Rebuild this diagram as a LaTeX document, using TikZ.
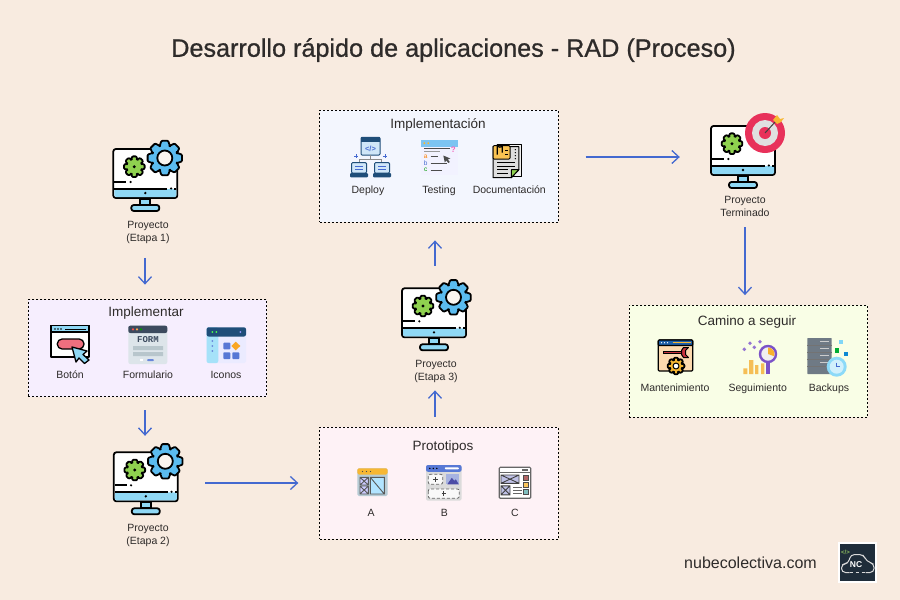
\documentclass[tikz,border=0pt]{standalone}
\usepackage{fontspec}
\setmainfont{Liberation Sans}
\setmonofont{Liberation Mono}
\newfontfamily\titleFont[FakeBold=0.8]{Liberation Sans}
\usetikzlibrary{positioning, arrows.meta}

\definecolor{pageBg}{HTML}{F8EBE0}
\definecolor{inkText}{HTML}{2E2B2A}
\definecolor{flowBlue}{HTML}{4469D0}
\definecolor{panelPurple}{HTML}{F6EEFE}
\definecolor{panelBlue}{HTML}{F3F6FE}
\definecolor{panelPink}{HTML}{FEF2F6}
\definecolor{panelLime}{HTML}{F9FEE6}
\definecolor{skyFill}{HTML}{8FD8F5}
\definecolor{gearBlue}{HTML}{5BBCF0}
\definecolor{gearGreen}{HTML}{8FD14F}
\definecolor{targetRed}{HTML}{E8315A}
\definecolor{dartGold}{HTML}{F7B733}
\definecolor{logoDark}{HTML}{1F2D3A}
\definecolor{pillRed}{HTML}{EE6F7F}
\definecolor{formGrey}{HTML}{DDE5EA}
\definecolor{formDark}{HTML}{3C4A5E}
\definecolor{formBar}{HTML}{B8C6CC}
\definecolor{navyLine}{HTML}{1F4E79}
\definecolor{paleBlue}{HTML}{CFE6F8}
\definecolor{testHead}{HTML}{7CC4F2}
\definecolor{peachFill}{HTML}{FCD9AE}
\definecolor{headBlue}{HTML}{1F5FA8}
\definecolor{wrenchRed}{HTML}{C8323C}
\definecolor{lensPurple}{HTML}{7B52C8}
\definecolor{barGold}{HTML}{F5BE55}
\definecolor{rackGrey}{HTML}{6F7A85}

\tikzset{
    flow/.style={-{Straight Barb[length=7pt,width=13pt]}, draw=flowBlue, line width=1.3pt},
    panel/.style={draw=black, fill=#1, dash pattern=on 2pt off 2pt, line width=.8pt},
    panelTitle/.style={text=inkText, font=\fontsize{13.5}{16}\selectfont, inner sep=0pt, text height=10pt, text depth=3pt},
    stackLabel/.style={text=inkText, font=\fontsize{10.5}{13}\selectfont, align=center, inner sep=0pt},
    rowLabel/.style={text=inkText, font=\fontsize{10.5}{13}\selectfont, inner sep=0pt, text height=8pt, text depth=2.5pt},
    monitorSpot/.style={minimum width=68pt, minimum height=68pt, inner sep=0pt},
    ink/.style={draw=black, line width=1.8pt, line join=round},
    thinInk/.style={draw=black, line width=1pt, line join=round},
    pics/gearIcon/.style 2 args={code={
        \draw[ink, fill=#2, rounded corners=.8pt] (-24:#1*.74)
            \foreach \a in {0,45,...,315} { -- (\a-24:#1*.74) -- (\a-11:#1) -- (\a+11:#1) -- (\a+24:#1*.74) } -- cycle;
    }},
    pics/monitorIcon/.style={code={
        \draw[ink, fill=white, rounded corners=2.5pt] (-32,-31) rectangle (32,18);
        \fill[skyFill, rounded corners=1.5pt] (-31,9) rectangle (31,17);
        \draw[ink] (-31,9) -- (22,9) (29,9) -- (31,9);
        \draw[ink] (-31,2) -- (-19,2);
        \fill (-14.7,2) circle (1.2) (0,13) circle (1.3) (25.8,8.5) circle (1.2);
        \draw[ink, fill=skyFill] (-5,19) rectangle (5,25);
        \draw[ink, fill=skyFill, rounded corners=2.5pt] (-14,25) rectangle (14,31);
        \pic at (-11,-13.3) {gearIcon={10.5}{gearGreen}};
        \fill (-11,-13.3) circle (1.6);
    }},
    pics/monitorGear/.style={code={
        \pic {monitorIcon};
        \pic at (19.5,-22) {gearIcon={17.5}{gearBlue}};
        \draw[ink, fill=white!50!pageBg] (19.5,-22) circle (7.5);
    }},
    pics/monitorTarget/.style={code={
        \pic {monitorIcon};
        \fill[targetRed] (22,-24) circle (20);
        \fill[black!12] (22,-24) circle (13);
        \fill[targetRed] (22,-24) circle (6);
        \draw[draw=black!75, line width=1pt] (22,-24) -- (33,-36);
        \fill[dartGold] (30,-37) -- (34,-42) -- (37,-38) -- (41,-39) -- (38,-35) -- (34,-33) -- cycle;
    }},
    pics/botonIcon/.style={code={
        \draw[thinInk, line width=1.3pt, fill=white] (-19,-17.3) rectangle (19,14);
        \draw[thinInk, line width=1.3pt, fill=skyFill] (-19,-17.3) rectangle (19,-11);
        \draw[line width=1pt] (-5,-14) -- (16,-14);
        \fill (-15,-14) circle (.8) (-12,-14) circle (.8) (-9,-14) circle (.8);
        \draw[thinInk, line width=1.3pt, fill=pillRed, rounded corners=4.8pt] (-12.7,-4) rectangle (14,6);
        \draw[thinInk, line width=1.3pt, fill=skyFill] (2,4) -- (17,8) -- (13,11.5) -- (19,17) -- (14.5,20.5) -- (9,15) -- (6,19) -- cycle;
    }},
    pics/formIcon/.style={code={
        \fill[formGrey, rounded corners=2pt] (-19.7,-19.3) rectangle (19.3,19);
        \fill[formDark, rounded corners=2pt] (-19.7,-19.3) rectangle (19.3,-12);
        \fill[red!70] (-15,-15.7) circle (1.2);
        \fill[orange!70] (-11,-15.7) circle (1.2);
        \fill[green!60!black] (-7,-15.7) circle (1.2);
        \node[text=formDark, font=\ttfamily\bfseries\fontsize{9}{9}\selectfont, inner sep=0pt] (formWord) at (0,-5) {FORM};
        \fill[formBar] (-15,1) rectangle (15,5) (-15,7) rectangle (15,11);
        \fill[white] (-8,14) rectangle (-5,16);
        \fill[flowBlue!80, rounded corners=1pt] (-1,14) rectangle (6,16);
    }},
    pics/iconosIcon/.style={code={
        \fill[blue!8, rounded corners=2pt] (-19.7,-17.7) rectangle (19.7,18);
        \fill[cyan!35, rounded corners=2pt] (-19.7,-17.7) rectangle (-8,18);
        \fill[navyLine, rounded corners=2pt] (-19.7,-17.7) rectangle (19.7,-8.5);
        \fill[green!70] (-14,-13) circle (1) (-10,-13) circle (1);
        \fill[blue!40] (14,-13) circle (1);
        \fill[flowBlue!80] (-14,-4) circle (1) (-14,1) circle (1) (-14,6) circle (1);
        \fill[flowBlue!90, rounded corners=.8pt] (-3,-2.3) rectangle (4,4.3) (-3,7.3) rectangle (4,14) (6,7.3) rectangle (13,14);
        \fill[dartGold!70!orange] (9.5,-3.3) -- (14,1) -- (9.5,5.3) -- (5,1) -- cycle;
    }},
    pics/deployIcon/.style={code={
        \draw[thinInk, draw=navyLine, fill=paleBlue, rounded corners=1pt] (-9.5,-19.7) rectangle (9.5,-2);
        \fill[navyLine] (-9.5,-19.7) rectangle (9.5,-15.5);
        \node[text=flowBlue, font=\bfseries\fontsize{7.5}{7.5}\selectfont, inner sep=0pt] (deployCode) at (0,-8.5) {</>};
        \draw[draw=black!45, line width=.7pt] (0,-2) -- (0,2) (-11,5.7) -- (-11,2) -- (11,2) -- (11,5.7);
        \draw[draw=flowBlue, line width=1pt] (-16.5,-1) -- (-12.5,-1) (-14.5,-3) -- (-14.5,1) (12.5,-1) -- (16.5,-1) (14.5,-3) -- (14.5,1);
        \foreach \x in {-11.5,11.5} {
            \draw[thinInk, draw=navyLine, fill=paleBlue, rounded corners=1pt] (\x-7.5,5.7) rectangle (\x+7.5,16);
            \draw[draw=flowBlue, line width=.8pt] (\x-4,9) -- (\x+4,9) (\x-4,12) -- (\x+4,12);
            \fill[navyLine, rounded corners=1pt] (\x-9,16) rectangle (\x+9,20.3);
        }
    }},
    pics/testingIcon/.style={code={
        \fill[blue!5] (-18.3,-17.5) rectangle (18.3,17.5);
        \fill[testHead] (-18.3,-17.5) rectangle (18.3,-11);
        \fill[dartGold] (-15,-14.3) circle (1.1) (-11,-14.3) circle (1.1);
        \draw[draw=black!70, line width=.7pt] (-15,-9) -- (11,-9);
        \draw[draw=black!40, line width=.9pt] (-15,-5.8) -- (1,-5.8);
        \draw[draw=black!70, line width=.7pt] (-8.6,-1) -- (-1.6,-1) (-8.6,6) -- (7.4,6) (-8.6,12.5) -- (2.4,12.5);
        \node[text=orange, font=\fontsize{6.5}{7}\selectfont, inner sep=0pt] (testA) at (-13.6,-1) {a};
        \node[text=flowBlue, font=\fontsize{6.5}{7}\selectfont, inner sep=0pt] (testB) at (-13.6,6) {b};
        \node[text=green!60!black, font=\fontsize{6.5}{7}\selectfont, inner sep=0pt] (testC) at (-13.6,12.5) {c};
        \node[text=magenta!60, font=\bfseries\fontsize{8}{8}\selectfont, inner sep=0pt] (testAsk) at (14,-7.5) {?};
        \fill[black!70] (4,-2) -- (11,1) -- (8.5,2) -- (10.5,4.5) -- (9,5.5) -- (7,3) -- (5.5,5) -- cycle;
    }},
    pics/docIcon/.style={code={
        \draw[thinInk, fill=black!5] (-10,-15) rectangle (14.3,17);
        \draw[thinInk, fill=black!13] (-14.3,-13) -- (11.5,-13) -- (11.5,10) -- (4,18) -- (-14.3,18) -- cycle;
        \draw[thinInk, fill=gearGreen] (11.5,10) -- (4,18) -- (4,10) -- cycle;
        \draw[thinInk, fill=dartGold!85, rounded corners=1pt] (-14.3,-14) rectangle (2.7,-.7);
        \draw[thinInk, line width=1.2pt] (-10,-5) -- (-10,-15) arc (180:0:2.5) -- (-5,-7);
        \draw[line width=.8pt] (-2.5,-9) -- (1,-9) (-2.5,-5.5) -- (1,-5.5);
        \fill (8,-10) circle (.7) (8,-7) circle (.7) (8,-4) circle (.7) (8,-1) circle (.7);
        \draw[line width=.8pt] (-10,3) -- (8,3) (-10,6.5) -- (8,6.5) (-10,10) -- (1,10) (-10,13.5) -- (1,13.5);
    }},
    pics/crossBox/.style args={#1/#2/#3/#4}{code={
        \draw[draw=#4, fill=#3, line width=.9pt] (0,0) rectangle (#1,#2) (0,0) -- (#1,#2) (0,#2) -- (#1,0);
    }},
    pics/protoA/.style={code={
        \fill[blue!30!cyan!25!gray!45, rounded corners=1.5pt] (-15.2,-13.7) rectangle (15.2,14);
        \fill[dartGold, rounded corners=1.5pt] (-15.2,-13.7) rectangle (15.2,-7.5);
        \fill[black!70] (-10,-10.5) circle (.7) (-6,-10.5) circle (.7) (-2,-10.5) circle (.7);
        \pic at (-12.5,-4.7) {crossBox=8.3/7.7/blue!20/black!65};
        \pic at (-12.5,4) {crossBox=8.3/8/blue!20/black!65};
        \draw[draw=black!65, fill=blue!35!cyan!30, line width=.9pt] (-2.2,-4.7) rectangle (11.8,12) (-2.2,-4.7) -- (11.8,12);
    }},
    pics/protoB/.style={code={
        \fill[black!14, rounded corners=2pt] (-17.8,-17.8) rectangle (17.8,17.8);
        \fill[flowBlue!90, rounded corners=2pt] (-17.8,-17.8) rectangle (17.8,-11);
        \fill[black] (-14,-14.4) circle (.8) (-10.5,-14.4) circle (.8) (-7,-14.4) circle (.8);
        \fill[white, rounded corners=.8pt] (1,-15.5) rectangle (15,-13.5);
        \draw[draw=black!60, fill=white!70!black!8, densely dashed, line width=.8pt, rounded corners=2pt] (-15.5,-8.5) rectangle (-1.1,1.5) (-15.5,6.2) rectangle (15.5,15.5);
        \draw[draw=black!75, line width=.7pt] (-10.5,-3.5) -- (-6,-3.5) (-8.3,-5.7) -- (-8.3,-1.3) (-2.2,10.8) -- (2.2,10.8) (0,8.6) -- (0,13);
        \fill[cyan!35!blue!35] (2.2,-8.5) rectangle (15.5,1.5);
        \fill[blue!50!black!70] (3.5,1.5) -- (8,-5) -- (10.5,-2) -- (12,-3.5) -- (15,1.5) -- cycle;
    }},
    pics/protoC/.style={code={
        \draw[draw=black!60, fill=white, line width=1.2pt, rounded corners=1pt] (-15.7,-15.5) rectangle (15.7,15.5);
        \draw[draw=black!60, line width=1.2pt] (-15.7,-10) -- (15.7,-10);
        \fill[black!60] (7,-13.5) rectangle (13,-12);
        \pic at (-14,-7.8) {crossBox=18/8.3/cyan!25!blue!25/black!75};
        \pic at (-14,3) {crossBox=9/9/cyan!25!blue!25/black!75};
        \draw[draw=black!60, line width=1pt] (-1.7,5) -- (6.7,5) (-1.7,8) -- (6.7,8) (-1.7,11) -- (6.7,11);
        \draw[draw=black!70, fill=red!50!black!60, line width=.6pt] (8.3,-7.8) rectangle (13.3,-2.8);
        \draw[draw=black!70, fill=dartGold!80, line width=.6pt] (8.3,-.8) rectangle (13.3,4.2);
        \draw[draw=black!70, fill=teal!50, line width=.6pt] (8.3,6.2) rectangle (13.3,11.2);
    }},
    pics/mantIcon/.style={code={
        \draw[thinInk, line width=1.2pt, fill=peachFill, rounded corners=1pt] (-17.2,-15.5) rectangle (17.2,15.5);
        \draw[thinInk, line width=1.2pt, fill=headBlue, rounded corners=1pt] (-17.2,-15.5) rectangle (17.2,-10);
        \draw[draw=dartGold, line width=1pt] (-3,-12.8) -- (15,-12.8);
        \fill[white] (-14,-12.8) circle (.7) (-11,-12.8) circle (.7) (-8,-12.8) circle (.7);
        \draw[draw=black, line width=2.8pt] (-12.5,-3) -- (6,-3);
        \draw[draw=wrenchRed, line width=1.6pt] (-12,-3) -- (6,-3);
        \draw[thinInk, fill=wrenchRed] (6,-5) -- (8,-8) -- (13,-8) -- (10,-5) -- (10,-1) -- (13,2) -- (8,2) -- (6,-1) -- cycle;
        \pic at (.5,10.5) {gearIcon={8.5}{dartGold}};
        \draw[thinInk, fill=white] (.5,10.5) circle (3);
    }},
    pics/seguiIcon/.style={code={
        \fill[barGold] (-13.7,12.3) rectangle (-9.7,18) (-8,4) rectangle (-3.7,18) (-2,9) rectangle (1.3,18) (4,7.3) rectangle (7.3,18);
        \draw[draw=lensPurple, line width=3.5pt] (11,7) -- (11,18);
        \draw[draw=lensPurple, fill=black!6, line width=2.4pt] (11,-2) circle (8);
        \fill[dartGold!90!orange] (11,-2) -- (11,-8.5) arc (-90:20:6.5) -- cycle;
        \fill[lensPurple!80] (-12.7,-6.7) circle (1.9) (-7,-12.7) circle (1.9) (-2.7,-8.7) circle (1.9) (3,-14.3) circle (1.9);
    }},
    pics/backupIcon/.style={code={
        \fill[rackGrey, rounded corners=.5pt] (-21.7,-18) rectangle (2.7,18);
        \foreach \y in {-11,-4,3,10} {
            \draw[draw=black!55, line width=.8pt] (-21.7,\y) -- (2.7,\y);
            \fill[black!20] (-9,\y-4.5) rectangle (0,\y-3);
        }
        \fill[cyan!50] (9.7,-16.5) rectangle (14.3,-12);
        \fill[green!60!black!80!cyan] (5.5,-8) rectangle (10,-3.5);
        \fill[cyan!70!blue] (14.5,-4.2) rectangle (19,.3);
        \fill[cyan!45] (7.7,10.7) circle (10);
        \fill[cyan!18] (7.7,10.7) circle (7);
        \draw[draw=flowBlue, line width=1pt] (7.7,6.5) -- (7.7,10.7) -- (11,10.7);
    }},
    pics/logoIcon/.style={code={
        \draw[draw=white, fill=logoDark, line width=2pt] (-19,-19.5) rectangle (18.5,19.5);
        \draw[draw=white!85!black, line width=1pt, rounded corners=4pt] (-8,10) -- (-16,10) -- (-16,1.5) -- (-9,1) -- (-7,-8) -- (6,-8) -- (9,-1) -- (16.5,1) -- (16.5,10) -- (8,10);
        \draw[draw=white!85!black, line width=1pt, dashed] (-8,10) -- (8,10);
        \node[text=white, font=\bfseries\fontsize{8.5}{8.5}\selectfont, inner sep=0pt] (logoWord) at (-1.5,2) {NC};
        \node[text=gearGreen!70!gray, font=\bfseries\fontsize{6}{6}\selectfont, inner sep=0pt] (logoCode) at (-12,-10) {</>};
    }},
}

\begin{document}
\begin{tikzpicture}[x=1pt, y=-1pt]
    \useasboundingbox[fill=pageBg] (0,0) rectangle (900,600);
    \node[text=inkText, font=\titleFont\fontsize{25.2}{28}\selectfont, inner sep=0pt, text height=18pt, text depth=5.5pt] (title) at (453.5,50.5) {Desarrollo rápido de aplicaciones - RAD (Proceso)};

    \node[panel=panelPurple, minimum width=238.5pt, minimum height=97pt] (implementar) at (147.5,348) {};
    \node[panel=panelBlue, minimum width=238.5pt, minimum height=112pt] (implementacion) at (439,166) {};
    \node[panel=panelPink, minimum width=238.5pt, minimum height=112pt] (prototipos) at (439,483) {};
    \node[panel=panelLime, minimum width=238.5pt, minimum height=112pt] (camino) at (748.5,361) {};

    \node[panelTitle] (tituloImplementar) at (146,313) {Implementar};
    \node[panelTitle] (tituloImplementacion) at (438,124.5) {Implementación};
    \node[panelTitle] (tituloPrototipos) at (443,447) {Prototipos};
    \node[panelTitle] (tituloCamino) at (747,322) {Camino a seguir};

    \node[monitorSpot] (monitorUno) at (145,180) {};
    \node[monitorSpot] (monitorDos) at (145,483) {};
    \node[monitorSpot] (monitorTres) at (435,319) {};
    \node[monitorSpot] (monitorFin) at (743,157) {};
    \pic (picUno) at (145.3,180) {monitorGear};
    \pic (picDos) at (145.8,483.3) {monitorGear};
    \pic (picTres) at (434,319.3) {monitorGear};
    \pic (picFin) at (743,157) {monitorTarget};

    \node[stackLabel] (etapaUno) at (148,232) {Proyecto\\(Etapa 1)};
    \node[stackLabel] (etapaDos) at (148,535) {Proyecto\\(Etapa 2)};
    \node[stackLabel] (etapaTres) at (436,371) {Proyecto\\(Etapa 3)};
    \node[stackLabel] (terminado) at (745,206.5) {Proyecto\\Terminado};

    \pic (picBoton) at (70,343) {botonIcon};
    \pic (picForm) at (148,345) {formIcon};
    \pic (picIconos) at (226.3,345) {iconosIcon};
    \node[rowLabel] (boton) at (70,375.5) {Botón};
    \node[rowLabel] (formulario) at (148,375.5) {Formulario};
    \node[rowLabel] (iconos) at (226,375.5) {Iconos};

    \pic (picDeploy) at (370.5,157) {deployIcon};
    \pic (picTesting) at (439.3,157.5) {testingIcon};
    \pic (picDoc) at (507.3,159.7) {docIcon};
    \node[rowLabel] (deploy) at (368,190.5) {Deploy};
    \node[rowLabel] (testing) at (439,190.5) {Testing};
    \node[rowLabel] (documentacion) at (509.3,190.5) {Documentación};

    \pic (picA) at (372.5,482) {protoA};
    \pic (picB) at (443.8,482.8) {protoB};
    \pic (picC) at (515,482.8) {protoC};
    \node[rowLabel] (protoLetraA) at (371,513.5) {A};
    \node[rowLabel] (protoLetraB) at (444.3,513.5) {B};
    \node[rowLabel] (protoLetraC) at (515,513.5) {C};

    \pic (picMant) at (675.5,355.5) {mantIcon};
    \pic (picSegui) at (757,356) {seguiIcon};
    \pic (picBackup) at (829,356) {backupIcon};
    \node[rowLabel] (mantenimiento) at (675,388.5) {Mantenimiento};
    \node[rowLabel] (seguimiento) at (757.7,388.5) {Seguimiento};
    \node[rowLabel] (backups) at (829,388.5) {Backups};

    \node[text=inkText, font=\fontsize{16}{18}\selectfont, inner sep=0pt, text height=11.5pt, text depth=3.5pt] (sitio) at (750.5,564) {nubecolectiva.com};
    \pic (picLogo) at (857.5,562.5) {logoIcon};

    \draw[flow, shorten <=14.5pt, shorten >=14.5pt] (etapaUno.south -| monitorUno) -- (implementar.north -| monitorUno);
    \draw[flow, shorten <=13.3pt, shorten >=13pt] (implementar.south -| monitorDos) -- (monitorDos.north);
    \draw[flow, shorten <=26pt, shorten >=21pt] (monitorDos.east) -- (prototipos.west);
    \draw[flow, shorten <=10pt, shorten >=8pt] (prototipos.north -| monitorTres) -- (etapaTres.south -| monitorTres);
    \draw[flow, shorten <=19pt, shorten >=18pt] (monitorTres.north) -- (implementacion.south -| monitorTres);
    \draw[flow, shorten <=27pt, shorten >=29pt] (implementacion.east |- monitorFin) -- (monitorFin.west);
    \draw[flow, shorten <=10.5pt, shorten >=9.5pt] (terminado.south) -- (camino.north -| terminado);
\end{tikzpicture}
\end{document}
